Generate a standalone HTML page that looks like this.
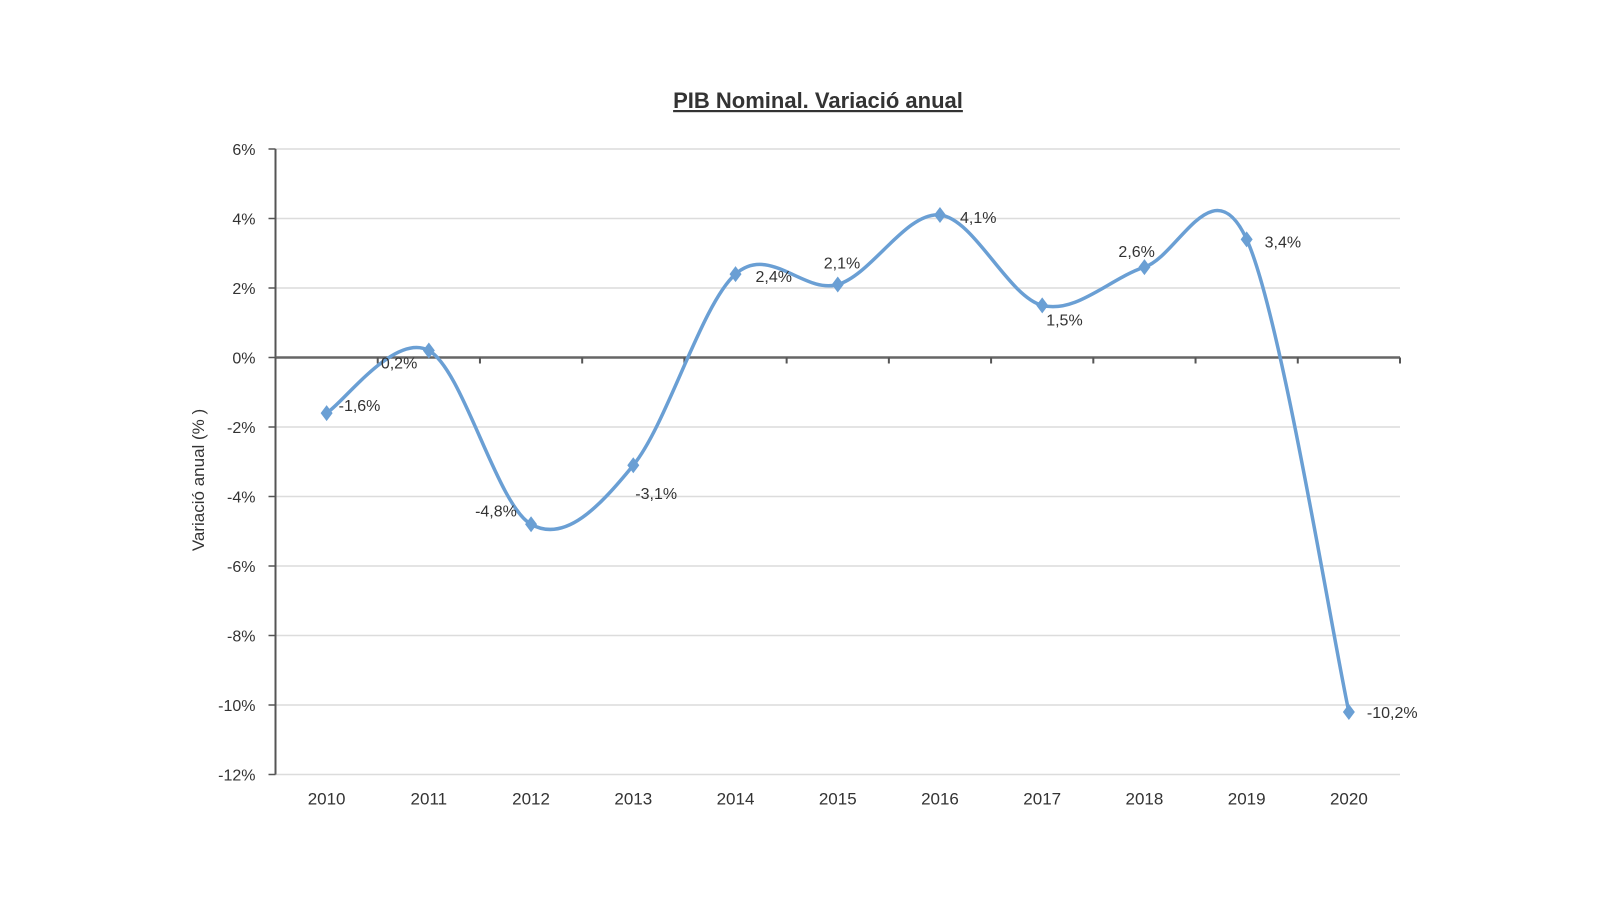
<!DOCTYPE html>
<html><head><meta charset="utf-8"><style>
html,body{margin:0;padding:0;background:#fff;}
svg text{font-family:"Liberation Sans",sans-serif;fill:#333;}
</style></head><body>
<svg width="1600" height="900" viewBox="0 0 1600 900" id="chart">
<text x="818" y="108" text-anchor="middle" font-size="22" font-weight="bold" text-decoration="underline">PIB Nominal. Variació anual</text>
<text transform="translate(204,480) rotate(-90)" text-anchor="middle" font-size="17">Variació anual (% )</text>
<g id="grid"></g><g id="axes"></g><g id="series"></g><g id="labels"></g>
</svg>
<script>
const categories=["2010","2011","2012","2013","2014","2015","2016","2017","2018","2019","2020"];
const values=[-1.6,0.2,-4.8,-3.1,2.4,2.1,4.1,1.5,2.6,3.4,-10.2];
const valueLabels=["-1,6%","0,2%","-4,8%","-3,1%","2,4%","2,1%","4,1%","1,5%","2,6%","3,4%","-10,2%"];
const yTicks=[6,4,2,0,-2,-4,-6,-8,-10,-12];
const labelDx=[12,-48,-56,2,20,-14,20,4,-26,18,18];
const labelDy=[-2,18,-8,34,8,-16,8,20,-10,8,6];
const NS="http://www.w3.org/2000/svg";
const L=275.5,R=1400,T=149,B=774.5,yMax=6,yMin=-12;
const step=(R-L)/categories.length;
const xs=i=>L+step*(i+0.5);
const ys=v=>T+(yMax-v)/(yMax-yMin)*(B-T);
function mk(tag,attrs,parent){const e=document.createElementNS(NS,tag);for(const k in attrs)e.setAttribute(k,attrs[k]);document.getElementById(parent).appendChild(e);return e;}
yTicks.forEach(t=>{
 if(t!==0){const g=mk('line',{x1:L,x2:R,y1:ys(t),y2:ys(t),stroke:'#dcdcdc','stroke-width':1.5},'grid');
 
 }
 const tk=mk('line',{x1:L-7,x2:L,y1:ys(t),y2:ys(t),stroke:'#555','stroke-width':1.5},'axes');
 
 
 const tx=mk('text',{x:L-20,y:ys(t)+6,'text-anchor':'end','font-size':16},'axes');
 tx.textContent=t+'%';
 
 
});
const ya=mk('line',{x1:L,x2:L,y1:T,y2:B,stroke:'#555','stroke-width':2},'axes');


const xa=mk('line',{x1:L,x2:R,y1:ys(0),y2:ys(0),stroke:'#666','stroke-width':2.5},'axes');


for(let i=0;i<=categories.length;i++){
 const t=mk('line',{x1:L+step*i,x2:L+step*i,y1:ys(0),y2:ys(0)+6,stroke:'#555','stroke-width':2},'axes');
 
 
}
categories.forEach((c,i)=>{
 const t=mk('text',{x:xs(i),y:B+30,'text-anchor':'middle','font-size':17},'axes');
 t.textContent=c;
 
 
});
const P=values.map((v,i)=>[xs(i),ys(v)]);
let d='M'+P[0][0]+','+P[0][1];
for(let i=0;i<P.length-1;i++){
 const p0=P[Math.max(i-1,0)],p1=P[i],p2=P[i+1],p3=P[Math.min(i+2,P.length-1)];
 const c1=[p1[0]+(p2[0]-p0[0])/6,p1[1]+(p2[1]-p0[1])/6];
 const c2=[p2[0]-(p3[0]-p1[0])/6,p2[1]-(p3[1]-p1[1])/6];
 d+=` C${c1[0]},${c1[1]} ${c2[0]},${c2[1]} ${p2[0]},${p2[1]}`;
}
const line=mk('path',{d:d,fill:'none',stroke:'#6a9fd4','stroke-width':3.5},'series');


P.forEach((p,i)=>{
 const m=mk('path',{d:`M${p[0]},${p[1]-8} L${p[0]+6},${p[1]} L${p[0]},${p[1]+8} L${p[0]-6},${p[1]} Z`,fill:'#6a9fd4'},'series');
 
 
 const t=mk('text',{x:p[0]+labelDx[i],y:p[1]+labelDy[i],'font-size':16},'labels');
 t.textContent=valueLabels[i];
 
 
});
</script>
</body></html>
